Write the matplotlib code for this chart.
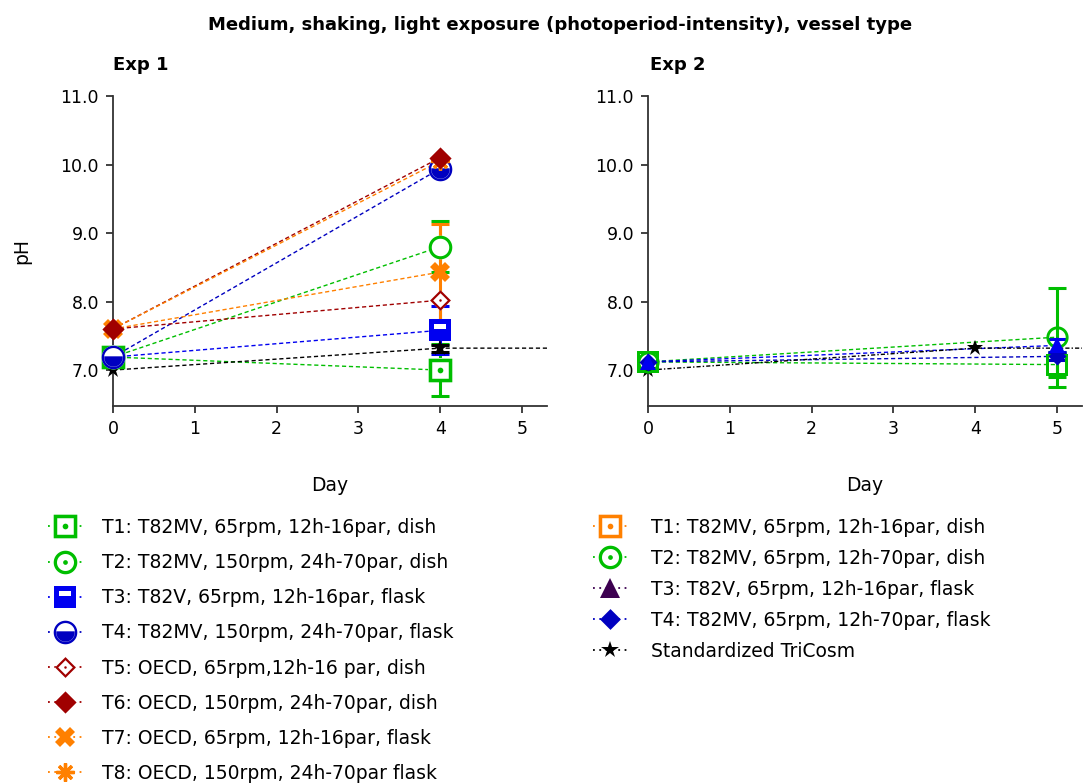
import numpy as np
import matplotlib
matplotlib.use('Agg')
import matplotlib.pyplot as plt
from matplotlib.lines import Line2D
from matplotlib.path import Path

plt.rcParams['font.family'] = 'DejaVu Sans'

# Exp 1: pH at day 0 and day 4, mean and error at day 4
EXP1_DAYS = [0, 4]
EXP1_LABELS = ['T1: T82MV, 65rpm, 12h-16par, dish',
               'T2: T82MV, 150rpm, 24h-70par, dish',
               'T3: T82V, 65rpm, 12h-16par, flask',
               'T4: T82MV, 150rpm, 24h-70par, flask',
               'T5: OECD, 65rpm,12h-16 par, dish',
               'T6: OECD, 150rpm, 24h-70par, dish',
               'T7: OECD, 65rpm, 12h-16par, flask',
               'T8: OECD, 150rpm, 24h-70par flask']
EXP1_PH_DAY0 = [7.19, 7.19, 7.19, 7.19, 7.6, 7.6, 7.6, 7.6]
EXP1_PH_DAY4 = [7.0, 8.8, 7.58, 9.94, 8.02, 10.1, 8.43, 10.05]
EXP1_ERR_DAY4 = [0.38, 0.37, 0.35, 0.0, 0.0, 0.0, 0.7, 0.0]

# Exp 2: pH at day 0 and day 5
EXP2_DAYS = [0, 5]
EXP2_LABELS = ['T1: T82MV, 65rpm, 12h-16par, dish',
               'T2: T82MV, 65rpm, 12h-70par, dish',
               'T3: T82V, 65rpm, 12h-16par, flask',
               'T4: T82MV, 65rpm, 12h-70par, flask']
EXP2_PH_DAY0 = [7.12, 7.12, 7.12, 7.12]
EXP2_PH_DAY5 = [7.08, 7.48, 7.36, 7.2]
EXP2_ERR_DAY5 = [0.18, 0.72, 0.1, 0.05]

# standardized TriCosm reference run
TRICOSM_LABEL = 'Standardized TriCosm'
TRICOSM_DAYS = [0, 4, 7]
TRICOSM_PH = [7.0, 7.32, 7.32]
TRICOSM_ERR = [0.0, 0.05, 0.0]


def poly(pts):
    pts = list(pts) + [pts[0]]
    codes = [Path.MOVETO] + [Path.LINETO] * (len(pts) - 2) + [Path.CLOSEPOLY]
    return Path(pts, codes)


def circle_pts(r, n=48, cw=False):
    a = np.linspace(0, 2 * np.pi, n, endpoint=False)
    if cw:
        a = a[::-1]
    return [(r * np.cos(t), r * np.sin(t)) for t in a]


def square_pts(h, cw=False):
    p = [(-h, -h), (h, -h), (h, h), (-h, h)]
    return p[::-1] if cw else p


def diamond_pts(h, cw=False):
    p = [(0, -h), (h, 0), (0, h), (-h, 0)]
    return p[::-1] if cw else p


# solid outlines (used white underneath the hollow markers)
SQ = poly(square_pts(1))
CIRC = poly(circle_pts(1))
DIA = poly(diamond_pts(1))

# hollow markers as filled paths with holes
SQ_DOT = Path.make_compound_path(SQ, poly(square_pts(0.7, cw=True)), poly(circle_pts(0.24)))
SQ_HOLLOW = Path.make_compound_path(SQ, poly(square_pts(0.72, cw=True)))
CIRC_DOT = Path.make_compound_path(CIRC, poly(circle_pts(0.72, cw=True)), poly(circle_pts(0.2)))
CIRC_HOLLOW = Path.make_compound_path(CIRC, poly(circle_pts(0.74, cw=True)))
DIA_DOT = Path.make_compound_path(DIA, poly(diamond_pts(0.7, cw=True)), poly(circle_pts(0.12)))
SQ_BAR = Path.make_compound_path(SQ, poly([(-0.55, 0.05), (-0.55, 0.5), (0.55, 0.5), (0.55, 0.05)]))
a0 = np.arcsin(0.1 / 0.78)
arc = np.linspace(np.pi - a0, 2 * np.pi + a0, 40)
HALF_CIRC = Path.make_compound_path(CIRC, poly(circle_pts(0.8, cw=True)),
                                    poly([(0.78 * np.cos(t), 0.78 * np.sin(t)) for t in arc]))

GREEN = '#00BE00'
BLUE = '#0000F0'
NAVY = '#0000C0'
DARKRED = '#A00000'
ORANGE = '#FF8000'
PURPLE = '#3C0050'

# back = shape filled white below the marker, z = marker stacking
EXP1_STYLE = [
    dict(color=GREEN, marker=SQ_DOT, back=SQ, ms=17, z=5.0),
    dict(color=GREEN, marker=CIRC_HOLLOW, back=CIRC, ms=17, z=4.5),
    dict(color=BLUE, marker=SQ_BAR, back=SQ, ms=16, z=4.0),
    dict(color=NAVY, marker=HALF_CIRC, back=CIRC, ms=17, z=6.0),
    dict(color=DARKRED, marker=DIA_DOT, back=DIA, ms=15, z=7.8),
    dict(color=DARKRED, marker=DIA, ms=16, z=8.0),
    dict(color=ORANGE, marker='X', ms=14, z=7.5),
    dict(color=ORANGE, marker=(8, 2, 0), ms=13, mew=2.4, z=7.0),
]
EXP1_LEG_MARKER = [SQ_DOT, CIRC_DOT, SQ_BAR, HALF_CIRC, DIA_DOT, DIA, 'X', (8, 2, 0)]

EXP2_STYLE = [
    dict(color=GREEN, marker=SQ_HOLLOW, ms=16, z=4.0),
    dict(color=GREEN, marker=CIRC_HOLLOW, ms=16, z=4.5),
    dict(color=BLUE, marker='^', ms=11, z=6.5),
    dict(color=NAVY, marker=DIA, ms=13, z=6.0),
]
EXP2_LEG = [
    dict(color=ORANGE, marker=SQ_DOT, back=SQ, ms=17),
    dict(color=GREEN, marker=CIRC_DOT, back=CIRC, ms=17),
    dict(color=PURPLE, marker='^', ms=14),
    dict(color=NAVY, marker=DIA, ms=15),
]
STAR = dict(color='black', marker='*', ms=12, z=4.2)

DASH = (0, (3, 2))


def draw_series(ax, days, y, err, st, ls=DASH, lw=1.0):
    c = st['color']
    yerr = np.array(err)
    keep = yerr > 0
    if keep.any():
        ax.errorbar(np.array(days)[keep], np.array(y)[keep], yerr=yerr[keep], fmt='none',
                    ecolor=c, elinewidth=2.2, capsize=6.5, capthick=2.2, zorder=2)
    ax.plot(days, y, ls=ls, lw=lw, color=c, zorder=3)
    z = st.get('z', 4)
    if 'back' in st:
        ax.plot(days, y, ls='none', marker=st['back'], ms=st['ms'], mfc='white', mew=0,
                zorder=z - 0.01, clip_on=False)
    ax.plot(days, y, ls='none', marker=st['marker'], ms=st['ms'], mfc=c, mec=c,
            mew=st.get('mew', 0), zorder=z, clip_on=False)


def style_axes(ax):
    ax.set_xlim(0, 5.3)
    ax.set_ylim(6.48, 11.0)
    ax.set_xticks([0, 1, 2, 3, 4, 5])
    ax.set_yticks([7, 8, 9, 10, 11])
    ax.set_yticklabels(['%.1f' % v for v in [7, 8, 9, 10, 11]])
    for s in ['top', 'right']:
        ax.spines[s].set_visible(False)
    for s in ['left', 'bottom']:
        ax.spines[s].set_linewidth(1.3)
        ax.spines[s].set_color('#333333')
    ax.tick_params(direction='out', length=5, width=1.3, color='#333333',
                   labelsize=12.5, pad=5)
    ax.set_xlabel('Day', fontsize=13.5, labelpad=28)


fig = plt.figure(figsize=(10.9, 7.83), dpi=100)
W, H = 1090, 783
ax1 = fig.add_axes([113 / W, 1 - 405.7 / H, 433.5 / W, (405.7 - 96) / H])
ax2 = fig.add_axes([648 / W, 1 - 405.7 / H, 433.5 / W, (405.7 - 96) / H])

# Exp 1
for i, st in enumerate(EXP1_STYLE):
    draw_series(ax1, EXP1_DAYS, [EXP1_PH_DAY0[i], EXP1_PH_DAY4[i]], [0, EXP1_ERR_DAY4[i]], st)
draw_series(ax1, TRICOSM_DAYS, TRICOSM_PH, TRICOSM_ERR, STAR)

# Exp 2
for i, st in enumerate(EXP2_STYLE):
    draw_series(ax2, EXP2_DAYS, [EXP2_PH_DAY0[i], EXP2_PH_DAY5[i]], [0, EXP2_ERR_DAY5[i]], st)
draw_series(ax2, TRICOSM_DAYS, TRICOSM_PH, [0, 0, 0], STAR, ls=(0, (3, 1.5, 1, 1.5)))

style_axes(ax1)
style_axes(ax2)
ax1.set_ylabel('pH', fontsize=13.5, labelpad=21)

fig.text(560 / W, 1 - 25 / H, 'Medium, shaking, light exposure (photoperiod-intensity), vessel type',
         ha='center', va='center', fontsize=13, fontweight='bold')
fig.text(113 / W, 1 - 65 / H, 'Exp 1', ha='left', va='center', fontsize=13, fontweight='bold')
fig.text(650 / W, 1 - 65 / H, 'Exp 2', ha='left', va='center', fontsize=13, fontweight='bold')

LEG_LS = (0, (1, 2.5))


def legend_handle(st, marker=None):
    c = st['color']
    m = marker if marker is not None else st['marker']
    if 'back' in st:
        under = Line2D([], [], color=c, ls=LEG_LS, lw=1.3, marker=st['back'], ms=st['ms'],
                       mfc='white', mew=0)
        top = Line2D([], [], ls='none', marker=m, ms=st['ms'], mfc=c, mec=c, mew=0)
        return (under, top)
    return Line2D([], [], color=c, ls=LEG_LS, lw=1.3, marker=m, ms=st['ms'],
                  mfc=c, mec=c, mew=st.get('mew', 0))


h1 = [legend_handle(st, m) for st, m in zip(EXP1_STYLE, EXP1_LEG_MARKER)]
fig.legend(h1, EXP1_LABELS, loc='upper left', bbox_to_anchor=(48 / W, 1 - 518 / H),
           frameon=False, fontsize=13.5, handlelength=1.8, handletextpad=1.07,
           labelspacing=0.86, borderpad=0, borderaxespad=0)

h2 = [legend_handle(st) for st in EXP2_LEG]
h2.append(legend_handle(dict(color='black', marker='*', ms=13)))
fig.legend(h2, EXP2_LABELS + [TRICOSM_LABEL], loc='upper left',
           bbox_to_anchor=(593 / W, 1 - 518 / H), frameon=False, fontsize=13.5,
           handlelength=1.8, handletextpad=1.28, labelspacing=0.64,
           borderpad=0, borderaxespad=0)

fig.savefig('out.png', dpi=100)
